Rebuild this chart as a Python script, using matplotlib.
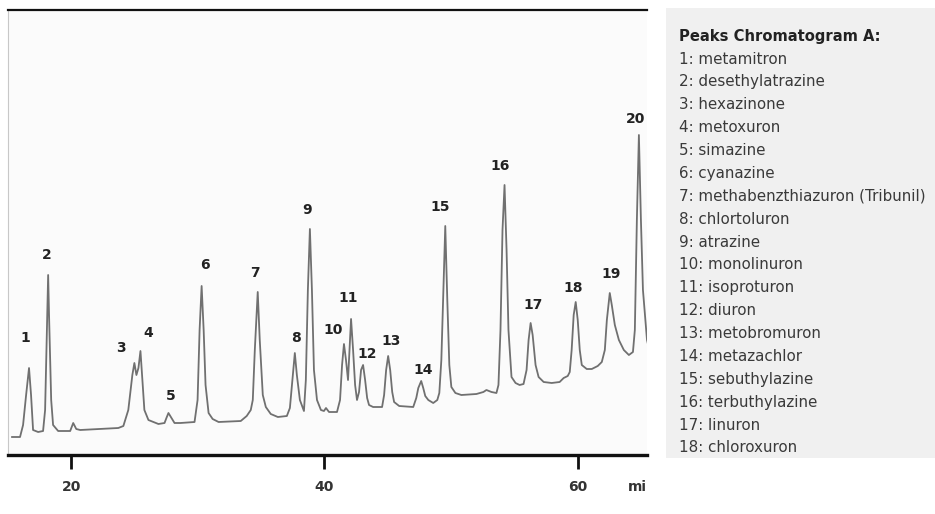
"""Chromatogram A with numbered peaks and the peak list panel on the right."""
import matplotlib

matplotlib.use("Agg")
import matplotlib.pyplot as plt  # noqa: E402
from matplotlib.patches import Rectangle  # noqa: E402

# trace: retention time (min) and detector signal (a.u.)
trace_t = [15.33, 15.96, 16.20, 16.44, 16.67, 16.83, 16.99, 17.39, 17.78, 17.94,
           18.10, 18.18, 18.26, 18.42, 18.57, 18.97, 19.92, 20.16, 20.40, 20.71,
           22.30, 23.72, 24.12, 24.51, 24.83, 24.99, 25.15, 25.31, 25.47, 25.62,
           25.78, 26.10, 26.89, 27.37, 27.52, 27.68, 27.92, 28.16, 28.63, 29.74,
           29.98, 30.14, 30.30, 30.46, 30.61, 30.85, 31.17, 31.64, 33.39, 33.86,
           34.18, 34.34, 34.50, 34.73, 34.89, 35.13, 35.37, 35.76, 36.32, 37.03,
           37.27, 37.43, 37.66, 37.82, 38.06, 38.38, 38.53, 38.69, 38.85, 39.01,
           39.17, 39.41, 39.72, 39.96, 40.12, 40.36, 40.99, 41.23, 41.39, 41.54,
           41.70, 41.86, 41.94, 42.10, 42.26, 42.42, 42.57, 42.73, 42.89, 43.05,
           43.21, 43.37, 43.52, 43.84, 44.55, 44.71, 44.87, 45.03, 45.19, 45.35,
           45.50, 45.90, 47.01, 47.25, 47.41, 47.64, 47.80, 47.96, 48.20, 48.59,
           48.91, 49.07, 49.23, 49.39, 49.54, 49.70, 49.86, 50.02, 50.34, 50.81,
           52.00, 52.55, 52.79, 53.19, 53.58, 53.74, 53.90, 54.06, 54.22, 54.38,
           54.53, 54.77, 55.09, 55.41, 55.72, 55.96, 56.12, 56.28, 56.44, 56.67,
           56.91, 57.31, 57.94, 58.57, 58.89, 59.21, 59.37, 59.52, 59.68, 59.84,
           60.00, 60.16, 60.32, 60.71, 61.11, 61.58, 61.90, 62.14, 62.30, 62.53,
           62.69, 62.93, 63.25, 63.64, 64.04, 64.36, 64.51, 64.67, 64.83, 64.99,
           65.15, 65.31, 65.47, 65.62]
trace_s = [18, 18, 30, 60, 87, 60, 25, 23, 24, 45,
           135, 180, 135, 55, 30, 24, 24, 32, 26, 25,
           26, 27, 29, 45, 80, 92, 80, 87, 104, 75,
           45, 35, 31, 32, 37, 42, 37, 32, 32, 33,
           55, 125, 169, 125, 70, 42, 36, 33, 34, 39,
           45, 55, 105, 163, 115, 60, 48, 41, 38, 39,
           47, 70, 102, 80, 55, 44, 75, 165, 226, 165,
           85, 55, 45, 44, 47, 43, 43, 55, 90, 111,
           95, 75, 95, 136, 105, 70, 55, 63, 85, 90,
           75, 57, 50, 48, 48, 60, 85, 99, 85, 63,
           53, 49, 48, 57, 67, 74, 67, 59, 55, 52,
           55, 62, 95, 165, 229, 155, 90, 68, 62, 60,
           61, 63, 65, 63, 62, 70, 125, 225, 270, 205,
           125, 78, 72, 70, 71, 85, 115, 132, 120, 90,
           78, 73, 72, 73, 77, 79, 83, 105, 140, 153,
           135, 105, 90, 86, 86, 89, 93, 105, 135, 162,
           150, 130, 115, 105, 100, 103, 125, 235, 320, 235,
           165, 140, 115, 107]

# peak number labels (time, signal where the label sits)
peak_no = list(range(1, 21))
label_t = [16.36, 18.10, 23.96, 26.10, 27.84, 30.53, 34.50, 37.74, 38.61, 40.67,
           41.86, 43.37, 45.27, 47.80, 49.15, 53.90, 56.51, 59.68, 62.61, 64.59]
label_s = [117, 200, 107, 122, 59, 190, 182, 117, 245, 125,
           157, 101, 114, 85, 248, 289, 150, 167, 181, 336]

x_ticks = [20, 40, 60]

compounds = ["metamitron", "desethylatrazine", "hexazinone", "metoxuron",
             "simazine", "cyanazine", "methabenzthiazuron (Tribunil)",
             "chlortoluron", "atrazine", "monolinuron", "isoproturon", "diuron",
             "metobromuron", "metazachlor", "sebuthylazine", "terbuthylazine",
             "linuron", "chloroxuron"]

plt.rcParams["font.family"] = ["DejaVu Sans"]

fig = plt.figure(figsize=(9.35, 5.14), dpi=100)
fig.patch.set_facecolor("white")
ax = fig.add_axes([8 / 935, 59 / 514, 639 / 935, 445 / 514])
ax.set_facecolor("#fbfbfb")

ax.plot(trace_t, trace_s, color="#707070", lw=1.3, solid_joinstyle="round")
for n, t, s in zip(peak_no, label_t, label_s):
    ax.text(t, s, str(n), ha="center", va="center", fontsize=10,
            fontweight="bold", color="#222222", clip_on=True)

ax.set_xlim(15.01, 65.47)
ax.set_ylim(0, 445)
ax.set_yticks([])
ax.set_xticks(x_ticks)
ax.set_xticklabels([str(v) for v in x_ticks], fontsize=10, fontweight="bold",
                   color="#333333")
ax.tick_params(axis="x", direction="out", length=10, width=2, pad=8,
               color="#111111")
ax.spines["right"].set_visible(False)
ax.spines["top"].set_color("#111111")
ax.spines["top"].set_linewidth(1.6)
ax.spines["bottom"].set_color("#111111")
ax.spines["bottom"].set_linewidth(2.4)
ax.spines["left"].set_color("#c8c8c8")
ax.spines["left"].set_linewidth(0.8)

fig.text(647 / 935, 1 - 487 / 514, "mi", ha="right", va="center",
         fontsize=10, fontweight="bold", color="#333333")

# peak list panel
fig.patches.append(Rectangle((666 / 935, 56 / 514), 269 / 935, 450 / 514,
                             transform=fig.transFigure, facecolor="#f0f0f0",
                             edgecolor="none", zorder=0))
fig.text(679 / 935, 1 - 37 / 514, "Peaks Chromatogram A:", ha="left",
         va="center", fontsize=10.6, fontweight="bold", color="#222222")
for i, name in enumerate(compounds):
    fig.text(679 / 935, 1 - (59 + i * 22.88) / 514, f"{i + 1}: {name}",
             ha="left", va="center", fontsize=10.9, color="#3a3a3a")

fig.savefig("out.png", dpi=100)
